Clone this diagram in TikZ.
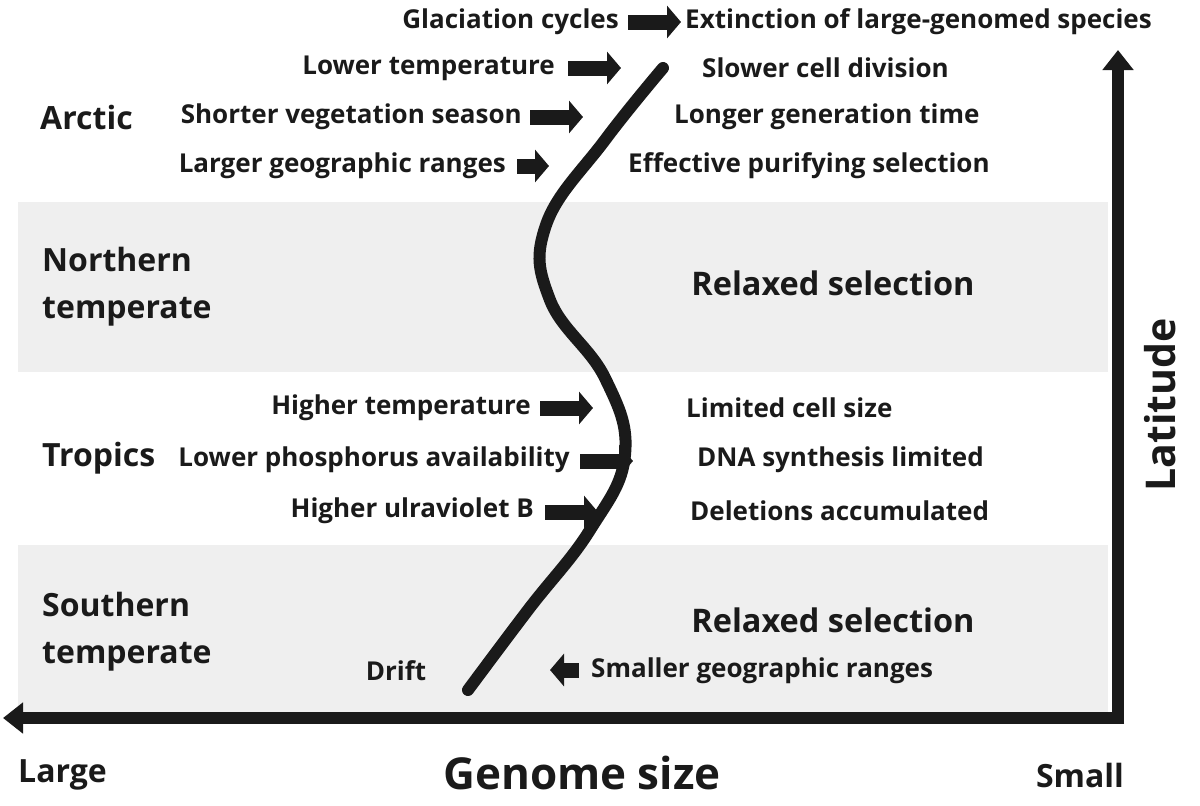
\documentclass[tikz,border=0pt]{standalone}
\usepackage{fontspec}
\setmainfont{Open Sans}
\usetikzlibrary{arrows.meta}
\definecolor{band}{HTML}{EFEFEF}
\definecolor{ink}{HTML}{1A1A1A}
\begin{document}
\begin{tikzpicture}[x=1pt,y=-1pt,
 t/.style={font=\bfseries\fontsize{26}{28}\selectfont,inner sep=0pt,text=ink},
 big/.style={font=\bfseries\fontsize{32.5}{34}\selectfont,inner sep=0pt,text=ink},
 reg/.style={font=\bfseries\fontsize{32}{47}\selectfont,inner sep=0pt,text=ink,align=left},
 ar/.style={line width=15pt,ink,-{Triangle[length=14pt,width=32pt]}}]
\useasboundingbox (0,0) rectangle (1200,806);
\fill[band] (18,202) rectangle (1108,372);
\fill[band] (18,545) rectangle (1108,715);
% axes
\coordinate (o) at (1118,718);
\coordinate (xl) at (3,718);
\coordinate (yt) at (1118,50);
\draw[line width=12pt,ink,-{Triangle[length=20pt,width=30pt]}] (1124,718) -- (xl);
\draw[line width=12pt,ink,-{Triangle[length=20pt,width=30pt]}] (o) -- (yt);
% curve
\draw[line width=12pt,ink,line cap=round] plot[smooth,tension=0.7] coordinates {(663,68) (605,140) (546,225) (550,300) (605,378) (625,455) (590,530) (528,610) (468,690)};
% arrows
\coordinate (a1s) at (628,22); \coordinate (a1e) at (681,22);
\coordinate (a2s) at (568,68); \coordinate (a2e) at (621,68);
\coordinate (a3s) at (530,117); \coordinate (a3e) at (583,117);
\coordinate (a4s) at (517,166); \coordinate (a4e) at (549,166);
\coordinate (a5s) at (540,408); \coordinate (a5e) at (593,408);
\coordinate (a6s) at (580,461); \coordinate (a6e) at (633,461);
\coordinate (a7s) at (545,512); \coordinate (a7e) at (598,512);
\coordinate (a8s) at (579,670); \coordinate (a8e) at (550,670);
\foreach \i in {1,...,8} \draw[ar] (a\i s) -- (a\i e);
% texts
\node[t,anchor=east] (g1) at (619,22) {Glaciation cycles};
\node[t,anchor=west] (g2) at (685,22) {Extinction of large-genomed species};
\node[t,anchor=east] (l1) at (555,68) {Lower temperature};
\node[t,anchor=west] (l2) at (702,68) {Slower cell division};
\node[reg,anchor=west] (arc) at (40,117) {Arctic};
\node[t,anchor=east] (s1) at (522,117) {Shorter vegetation season};
\node[t,anchor=west] (s2) at (674,117) {Longer generation time};
\node[t,anchor=east] (r1) at (506,166) {Larger geographic ranges};
\node[t,anchor=west] (r2) at (628,166) {Effective purifying selection};
\node[reg,anchor=west] (nt) at (42,287) {Northern\\temperate};
\node[big] (rs1) at (833,283) {Relaxed selection};
\node[t,anchor=east] (h1) at (531,408) {Higher temperature};
\node[t,anchor=west] (h2) at (686,408) {Limited cell size};
\node[reg,anchor=west] (tr) at (42,458) {Tropics};
\node[t,anchor=east] (p1) at (570,460) {Lower phosphorus availability};
\node[t,anchor=west] (p2) at (697,460) {DNA synthesis limited};
\node[t,anchor=east] (u1) at (534,511) {Higher ulraviolet B};
\node[t,anchor=west] (u2) at (690,511) {Deletions accumulated};
\node[reg,anchor=west] (st) at (42,632) {Southern\\temperate};
\node[big] (rs2) at (833,620) {Relaxed selection};
\node[t] (dr) at (396,671) {Drift};
\node[t,anchor=west] (sg) at (591,671) {Smaller geographic ranges};
\node[reg,anchor=west] (lg) at (18,775) {Large};
\node[font=\bfseries\fontsize{44}{46}\selectfont,text=ink,inner sep=0pt] (gs) at (582,773) {Genome size};
\node[reg] (sm) at (1080,775) {Small};
\node[font=\bfseries\fontsize{41}{44}\selectfont,text=ink,inner sep=0pt,rotate=90] (lat) at (1160,405) {Latitude};
\end{tikzpicture}
\end{document}
